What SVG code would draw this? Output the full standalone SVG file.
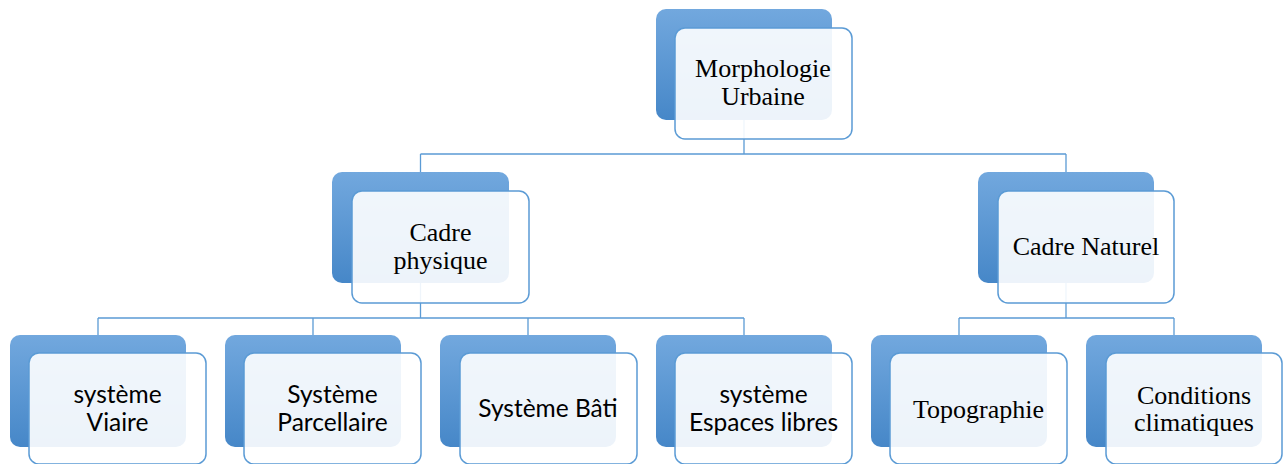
<svg xmlns="http://www.w3.org/2000/svg" width="1288" height="464" viewBox="0 0 1288 464">
<defs>
<linearGradient id="bg" x1="0" y1="0" x2="0" y2="1">
<stop offset="0" stop-color="#72a8de"/>
<stop offset="1" stop-color="#4687c8"/>
</linearGradient>
<style>
.back{fill:url(#bg);}
.front{fill:#ffffff;fill-opacity:0.9;stroke:#5b9bd5;stroke-width:1.5;}
.conn{fill:none;stroke:#5b9bd5;stroke-width:1.3;}
.serif{font-family:"Liberation Serif","Times New Roman",serif;font-size:26px;fill:#000;text-anchor:middle;}
.sans{font-family:Lato,"Open Sans",sans-serif;font-size:24.5px;fill:#000;text-anchor:middle;}
</style>
</defs>
<rect width="1288" height="464" fill="#ffffff"/>
<g id="connectors" class="conn">
<path d="M744 120V154M420.5 154H1066M420.5 154V172M1066 154V172"/>
<path d="M420.5 283V318M98 318H744M98 318V335M313 318V335M528 318V335M744 318V335"/>
<path d="M1066 283V318M959 318H1174M959 318V335M1174 318V335"/>
</g>
<g id="morphologie">
<rect class="back" x="656" y="9" width="176" height="111" rx="10"/>
<rect class="front" x="675" y="28" width="177" height="111" rx="10"/>
<text class="serif" x="763" y="77">Morphologie</text>
<text class="serif" x="763" y="104.5">Urbaine</text>
</g>
<g id="cadre-physique">
<rect class="back" x="332" y="172" width="177" height="111" rx="10"/>
<rect class="front" x="352" y="191" width="177" height="112" rx="10"/>
<text class="serif" x="440.5" y="241">Cadre</text>
<text class="serif" x="440.5" y="268.5">physique</text>
</g>
<g id="cadre-naturel">
<rect class="back" x="978" y="172" width="176" height="111" rx="10"/>
<rect class="front" x="998" y="191" width="176" height="112" rx="10"/>
<text class="serif" x="1086" y="255">Cadre Naturel</text>
</g>
<g id="systeme-viaire">
<rect class="back" x="10" y="335" width="176" height="112" rx="10"/>
<rect class="front" x="29" y="353" width="177" height="111" rx="10"/>
<text class="sans" x="117.5" y="403">système</text>
<text class="sans" x="117.5" y="431">Viaire</text>
</g>
<g id="systeme-parcellaire">
<rect class="back" x="225" y="335" width="176" height="112" rx="10"/>
<rect class="front" x="244" y="353" width="177" height="111" rx="10"/>
<text class="sans" x="332.5" y="403">Système</text>
<text class="sans" x="332.5" y="431">Parcellaire</text>
</g>
<g id="systeme-bati">
<rect class="back" x="440" y="335" width="176" height="112" rx="10"/>
<rect class="front" x="460" y="353" width="177" height="111" rx="10"/>
<text class="sans" x="548" y="417">Système Bâti</text>
</g>
<g id="systeme-espaces-libres">
<rect class="back" x="656" y="335" width="176" height="112" rx="10"/>
<rect class="front" x="675" y="353" width="177" height="111" rx="10"/>
<text class="sans" x="763.5" y="403">système</text>
<text class="sans" x="763.5" y="431">Espaces libres</text>
</g>
<g id="topographie">
<rect class="back" x="871" y="335" width="176" height="112" rx="10"/>
<rect class="front" x="890" y="353" width="177" height="111" rx="10"/>
<text class="serif" x="978.5" y="418">Topographie</text>
</g>
<g id="conditions-climatiques">
<rect class="back" x="1086" y="335" width="176" height="112" rx="10"/>
<rect class="front" x="1106" y="353" width="176" height="111" rx="10"/>
<text class="serif" x="1194" y="403.5">Conditions</text>
<text class="serif" x="1194" y="431">climatiques</text>
</g>
</svg>
